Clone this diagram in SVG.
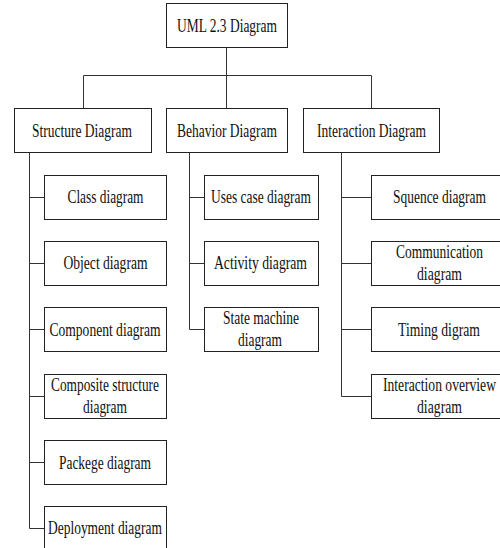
<svg xmlns="http://www.w3.org/2000/svg" width="500" height="548" viewBox="0 0 500 548">
<style>
.box{fill:#fff;stroke:#222;stroke-width:1}
.ln{fill:none;stroke:#333;stroke-width:1}
text{font-family:"Liberation Serif","Times New Roman",serif;font-size:18px;fill:#111;text-anchor:middle}
</style>
<rect width="500" height="548" fill="#fff"/>
<g id="connectors" class="ln">
<path d="M226.5 47.5V75.5M83.5 108.5V75.5H371.5V108.5M226.5 75.5V108.5"/>
<path d="M29.5 152.5V528.5H44.5M29.5 197.5H44.5M29.5 263.5H44.5M29.5 329.5H44.5M29.5 396.5H44.5M29.5 462.5H44.5"/>
<path d="M189.5 152.5V329.5H204.5M189.5 197.5H204.5M189.5 263.5H204.5"/>
<path d="M341.5 152.5V396.5H371.5M341.5 197.5H371.5M341.5 263.5H371.5M341.5 329.5H371.5"/>
</g>
<g id="uml"><rect class="box" x="166.5" y="3.5" width="121" height="44"/><text x="227" y="32" textLength="100" lengthAdjust="spacingAndGlyphs">UML 2.3 Diagram</text></g>
<g id="structure"><rect class="box" x="14.5" y="108.5" width="137" height="44"/><text x="82" y="137" textLength="100" lengthAdjust="spacingAndGlyphs">Structure Diagram</text></g>
<g id="behavior"><rect class="box" x="166.5" y="108.5" width="121" height="44"/><text x="227" y="137" textLength="100" lengthAdjust="spacingAndGlyphs">Behavior Diagram</text></g>
<g id="interaction"><rect class="box" x="303.5" y="108.5" width="136" height="44"/><text x="371.5" y="137" textLength="109" lengthAdjust="spacingAndGlyphs">Interaction Diagram</text></g>
<g id="class"><rect class="box" x="44.5" y="175.5" width="122" height="44"/><text x="105.5" y="203" textLength="76" lengthAdjust="spacingAndGlyphs">Class diagram</text></g>
<g id="object"><rect class="box" x="44.5" y="241.5" width="122" height="44"/><text x="105.5" y="269" textLength="84" lengthAdjust="spacingAndGlyphs">Object diagram</text></g>
<g id="component"><rect class="box" x="44.5" y="307.5" width="122" height="44"/><text x="105" y="336" textLength="111" lengthAdjust="spacingAndGlyphs">Component diagram</text></g>
<g id="composite"><rect class="box" x="44.5" y="374.5" width="122" height="44"/><text x="105" y="391" textLength="108" lengthAdjust="spacingAndGlyphs">Composite structure</text><text x="105" y="413" textLength="44" lengthAdjust="spacingAndGlyphs">diagram</text></g>
<g id="package"><rect class="box" x="44.5" y="440.5" width="122" height="44"/><text x="105" y="469" textLength="92" lengthAdjust="spacingAndGlyphs">Packege diagram</text></g>
<g id="deployment"><rect class="box" x="44.5" y="506.5" width="122" height="44"/><text x="105" y="534" textLength="114" lengthAdjust="spacingAndGlyphs">Deployment diagram</text></g>
<g id="usecase"><rect class="box" x="204.5" y="175.5" width="114" height="44"/><text x="261" y="203" textLength="100" lengthAdjust="spacingAndGlyphs">Uses case diagram</text></g>
<g id="activity"><rect class="box" x="204.5" y="241.5" width="114" height="44"/><text x="260.5" y="269" textLength="93" lengthAdjust="spacingAndGlyphs">Activity diagram</text></g>
<g id="statemachine"><rect class="box" x="204.5" y="307.5" width="114" height="44"/><text x="261" y="324" textLength="76" lengthAdjust="spacingAndGlyphs">State machine</text><text x="260" y="346" textLength="44" lengthAdjust="spacingAndGlyphs">diagram</text></g>
<g id="sequence"><rect class="box" x="371.5" y="175.5" width="129" height="44"/><text x="439.5" y="203" textLength="93" lengthAdjust="spacingAndGlyphs">Squence diagram</text></g>
<g id="communication"><rect class="box" x="371.5" y="241.5" width="129" height="44"/><text x="439.5" y="258" textLength="87" lengthAdjust="spacingAndGlyphs">Communication</text><text x="439.5" y="280" textLength="45" lengthAdjust="spacingAndGlyphs">diagram</text></g>
<g id="timing"><rect class="box" x="371.5" y="307.5" width="129" height="44"/><text x="439" y="336" textLength="82" lengthAdjust="spacingAndGlyphs">Timing digram</text></g>
<g id="overview"><rect class="box" x="371.5" y="374.5" width="129" height="44"/><text x="439.5" y="391" textLength="113" lengthAdjust="spacingAndGlyphs">Interaction overview</text><text x="439.5" y="413" textLength="45" lengthAdjust="spacingAndGlyphs">diagram</text></g>
</svg>
